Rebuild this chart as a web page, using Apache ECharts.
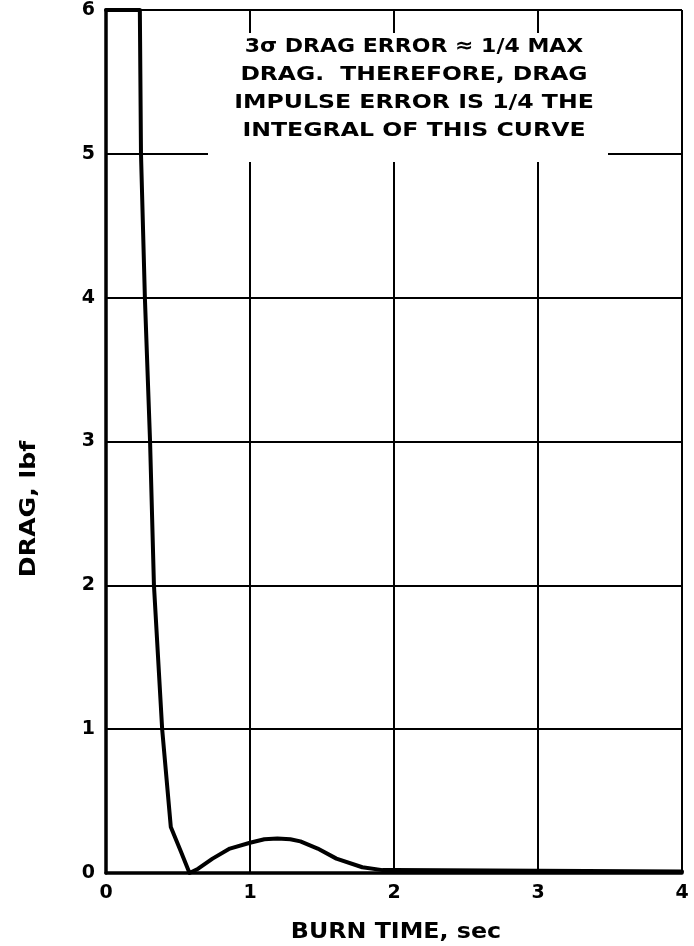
<!DOCTYPE html>
<html>
<head>
<meta charset="utf-8">
<style>html,body{margin:0;padding:0;background:#fff}#c{width:694px;height:946px}</style>
<script src="https://cdn.jsdelivr.net/npm/echarts@6/dist/echarts.min.js"></script>
</head>
<body>
<div id="c"></div>
<script>
var burnTime = [0, 0.235, 0.243, 0.27, 0.306, 0.333, 0.39, 0.45, 0.52, 0.58, 0.64, 0.74, 0.86, 1.0, 1.1, 1.19, 1.28, 1.35, 1.47, 1.6, 1.78, 1.92, 2.0, 3.0, 4.0];
var drag = [6, 6, 5, 4, 3, 2, 1, 0.32, 0.15, 0, 0.03, 0.10, 0.17, 0.21, 0.235, 0.24, 0.235, 0.22, 0.17, 0.10, 0.04, 0.02, 0.02, 0.015, 0.01];
var xTicks = [0, 1, 2, 3, 4];
var yTicks = [0, 1, 2, 3, 4, 5, 6];
var noteLines = ['3\u03C3 DRAG ERROR \u2248 1/4 MAX', 'DRAG.  THEREFORE, DRAG', 'IMPULSE ERROR IS 1/4 THE', 'INTEGRAL OF THIS CURVE'];
var xTitle = 'BURN TIME, sec';
var yTitle = 'DRAG, lbf';

var font = 'DejaVu Sans';
var chart = echarts.init(document.getElementById('c'), null, {renderer: 'canvas', width: 694, height: 946});
var pts = burnTime.map(function (t, i) { return [t, drag[i]]; });

var graphics = [{
  type: 'rect', z: 50,
  shape: {x: 208, y: 33, width: 400, height: 129},
  style: {fill: '#fff'}
}];
var lineY = [47, 75, 103, 131];
var lineScale = [1.1, 1.17, 1.18, 1.18];
noteLines.forEach(function (s, i) {
  graphics.push({
    type: 'text', z: 51, x: 414, y: lineY[i], scaleX: lineScale[i], scaleY: 1,
    style: {text: s, font: 'bold 20px "' + font + '"', fill: '#000', textAlign: 'center', textVerticalAlign: 'middle'}
  });
});
graphics.push({
  type: 'text', z: 51, x: 30, y: 509, rotation: Math.PI / 2, scaleX: 1.2,
  style: {text: yTitle, font: 'bold 21px "' + font + '"', fill: '#000', textAlign: 'center', textVerticalAlign: 'middle'}
});
graphics.push({
  type: 'text', z: 51, x: 396, y: 932, scaleX: 1.08,
  style: {text: xTitle, font: 'bold 22px "' + font + '"', fill: '#000', textAlign: 'center', textVerticalAlign: 'middle'}
});

chart.setOption({
  animation: false,
  backgroundColor: '#fff',
  grid: {left: 106, width: 576, top: 10, height: 863, containLabel: false},
  xAxis: {
    type: 'value', min: 0, max: 4, interval: 1,
    axisLine: {show: true, lineStyle: {color: '#000', width: 3.5}},
    axisTick: {show: false},
    axisLabel: {fontFamily: font, fontWeight: 'bold', fontSize: 19, color: '#000', margin: 11,
      formatter: function (v) { return xTicks.indexOf(v) >= 0 ? String(v) : ''; }},
    splitLine: {show: true, lineStyle: {color: '#000', width: 2}}
  },
  yAxis: {
    type: 'value', min: 0, max: 6, interval: 1,
    axisLine: {show: true, lineStyle: {color: '#000', width: 3.5}},
    axisTick: {show: false},
    axisLabel: {fontFamily: font, fontWeight: 'bold', fontSize: 19, color: '#000', margin: 11,
      formatter: function (v) { return yTicks.indexOf(v) >= 0 ? String(v) : ''; }},
    splitLine: {show: true, lineStyle: {color: '#000', width: 2}}
  },
  series: [{
    type: 'line', data: pts, showSymbol: false, smooth: false,
    lineStyle: {color: '#000', width: 4, join: 'round', cap: 'round'},
    clip: false, z: 10
  }],
  graphic: graphics
});
</script>
</body>
</html>
